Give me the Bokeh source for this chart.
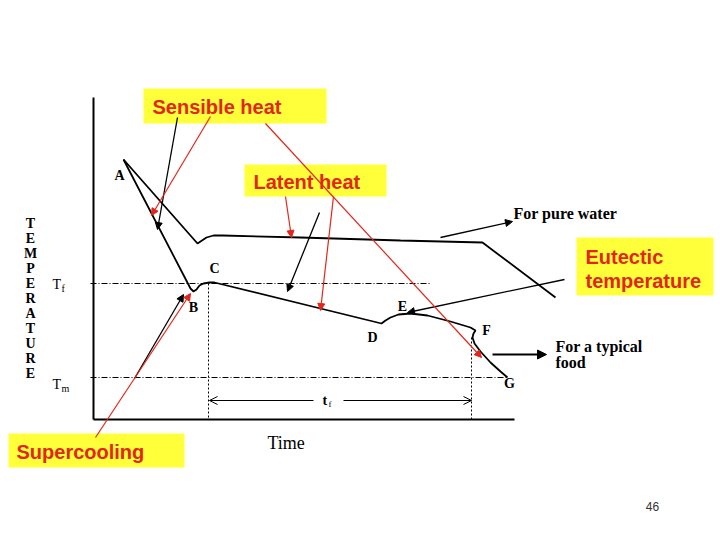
from bokeh.plotting import figure
from bokeh.models import Range1d, Arrow, NormalHead, OpenHead
from bokeh.core.properties import value
from bokeh.embed import file_html
from bokeh.resources import INLINE

# --- data (diagram coordinates: time -> right, temperature -> up, in picture units) ---
water_time = [123, 160, 197, 200, 206, 213, 222, 300, 400, 482, 555]
water_temp = [159, 201, 243, 241, 237, 235, 235, 237, 240, 242, 297]

food_time = [123, 190, 193, 196, 199, 203, 209, 214, 320, 381, 385, 390, 398, 410,
             427, 450, 470, 475, 473, 472, 474, 480, 490, 500, 507]
food_temp = [159, 288, 291, 289, 285, 283, 282, 282, 308, 323, 320, 317, 314, 313,
             315, 321, 327, 330, 333, 337, 343, 351, 362, 371, 377]

point_labels = ["A", "B", "C", "D", "E", "F", "G"]
point_x = [119, 193, 214, 372, 402, 486, 509]
point_y = [175, 307, 268, 337, 306, 330, 383]

t_freeze = 283     # Tf level
t_final = 377      # Tm level
time_start_freeze = 208
time_end_freeze = 471

axis_letters = list("TEMPERATURE")

YELLOW = "#FFFF3A"
RED = "#E3261A"
SERIF = value("Liberation Serif")
SANS = value("Liberation Sans")

p = figure(width=716, height=536, x_range=Range1d(0, 716), y_range=Range1d(536, 0),
           output_backend="svg", toolbar_location=None, min_border=0)
p.axis.visible = False
p.grid.visible = False
p.outline_line_color = None
p.background_fill_color = "white"
p.border_fill_color = "white"

# axes of the diagram
p.line([93, 93], [97, 419], line_color="black", line_width=2)
p.line([93, 514], [419, 419], line_color="black", line_width=2)

# reference levels
p.line([90, 430], [t_freeze, t_freeze], line_color="black", line_width=1, line_dash="6 2 1 2")
p.line([90, 508], [t_final, t_final], line_color="black", line_width=1, line_dash="6 2 1 2")
p.line([time_start_freeze, time_start_freeze], [t_freeze, 419], line_color="black",
       line_width=1, line_dash="2 2")
p.line([time_end_freeze, time_end_freeze], [337, 419], line_color="black",
       line_width=1, line_dash="2 2")

# curves
p.line(water_time, water_temp, line_color="black", line_width=1.8)
p.line(food_time, food_temp, line_color="black", line_width=1.8)

# tf arrow
p.add_layout(Arrow(end=OpenHead(size=8, line_width=1), x_start=313, y_start=400,
                   x_end=time_start_freeze + 1, y_end=400, line_width=1))
p.add_layout(Arrow(end=OpenHead(size=8, line_width=1), x_start=343, y_start=400,
                   x_end=time_end_freeze, y_end=400, line_width=1.2))
p.text(x=[322], y=[400], text=["t"], text_font=SERIF, text_font_size="14px",
       text_font_style="bold", text_baseline="middle", text_align="left")
p.text(x=[328], y=[403], text=["f"], text_font=SERIF, text_font_size="9px",
       text_baseline="middle", text_align="left")

# letters
p.text(x=point_x, y=point_y, text=point_labels, text_font=SERIF, text_font_size="14px",
       text_font_style="bold", text_baseline="middle", text_align="center")

# TEMPERATURE vertical label
p.text(x=[30] * len(axis_letters), y=[223 + 15 * i for i in range(len(axis_letters))],
       text=axis_letters, text_font=SERIF, text_font_size="14px", text_font_style="bold",
       text_baseline="middle", text_align="center")

# Tf / Tm
p.text(x=[52, 52], y=[284, 384], text=["T", "T"], text_font=SERIF, text_font_size="14px",
       text_baseline="middle", text_align="left")
p.text(x=[61, 61], y=[288, 388], text=["f", "m"], text_font=SERIF, text_font_size="10px",
       text_baseline="middle", text_align="left")

p.text(x=[267], y=[442], text=["Time"], text_font=SERIF, text_font_size="18px",
       text_baseline="middle", text_align="left")
p.text(x=[513], y=[213], text=["For pure water"], text_font=SERIF, text_font_size="16px",
       text_font_style="bold", text_baseline="middle", text_align="left")
p.text(x=[555, 555], y=[346, 362], text=["For a typical", "food"], text_font=SERIF,
       text_font_size="16px", text_font_style="bold", text_baseline="middle", text_align="left")

# yellow label boxes
box_left = [143, 244, 576, 8]
box_right = [326, 386, 713, 184]
box_top = [88, 164, 237, 433]
box_bottom = [123, 196, 295, 467]
p.quad(left=box_left, right=box_right, top=box_top, bottom=box_bottom,
       fill_color=YELLOW, line_color=None)
p.text(x=[152, 253, 585, 16, 585], y=[106, 181, 256, 451, 280],
       text=["Sensible heat", "Latent heat", "Eutectic", "Supercooling", "temperature"],
       text_font=SANS, text_font_size="20px", text_font_style="bold", text_color=RED,
       text_baseline="middle", text_align="left")

# black arrows
black_arrows = [
    (177, 117, 157, 229),
    (319, 212, 287, 291),
    (440, 237, 512, 221),
    (564, 279, 407, 312),
    (134, 378, 183, 294),
]
for xs, ys, xe, ye in black_arrows:
    p.add_layout(Arrow(end=NormalHead(size=7, fill_color="black", line_color="black"),
                       x_start=xs, y_start=ys, x_end=xe, y_end=ye,
                       line_color="black", line_width=1.3))
p.add_layout(Arrow(end=NormalHead(size=9, fill_color="black", line_color="black"),
                   x_start=492, y_start=354, x_end=546, y_end=354,
                   line_color="black", line_width=2.2))

# red arrows
red_arrows = [
    (210, 116, 151, 215),
    (265, 123, 481, 357),
    (285, 196, 291, 237),
    (333, 196, 320, 310),
    (95, 437, 190, 293),
]
for xs, ys, xe, ye in red_arrows:
    p.add_layout(Arrow(end=NormalHead(size=7, fill_color=RED, line_color=RED),
                       x_start=xs, y_start=ys, x_end=xe, y_end=ye,
                       line_color=RED, line_width=1.2))

# page number
p.text(x=[652], y=[506], text=["46"], text_font=SANS, text_font_size="12px",
       text_color="#333333", text_baseline="middle", text_align="center")

open("out.html", "w").write(file_html(p, INLINE))
